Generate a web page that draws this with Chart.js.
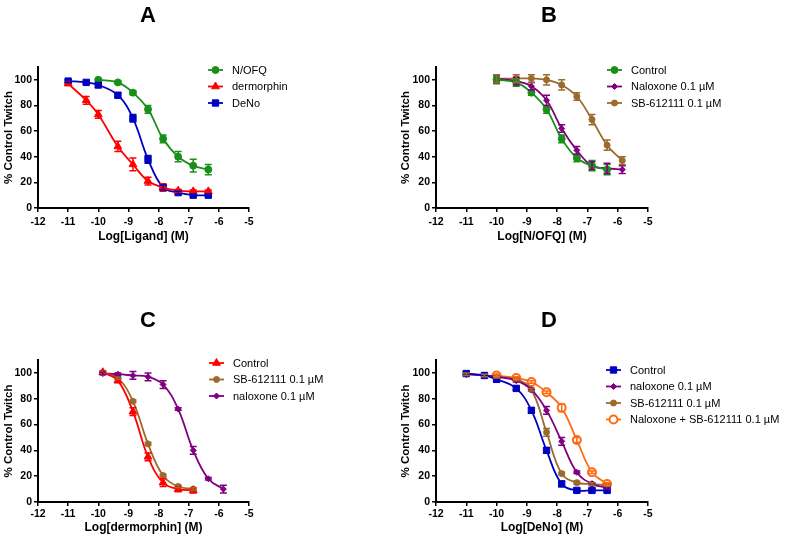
<!DOCTYPE html>
<html>
<head>
<meta charset="utf-8">
<script src="https://cdn.jsdelivr.net/npm/chart.js@4.4.1/dist/chart.umd.min.js"></script>
<style>
  body { margin: 0; background: #fff; }
  #wrap { position: relative; width: 786px; height: 535px; overflow: hidden; }
  canvas { position: absolute; }
</style>
</head>
<body>
<div id="wrap">
  <canvas id="cA" width="393" height="268" style="left:0;top:0"></canvas>
  <canvas id="cB" width="393" height="268" style="left:393px;top:0"></canvas>
  <canvas id="cC" width="393" height="267" style="left:0;top:268px"></canvas>
  <canvas id="cD" width="393" height="267" style="left:393px;top:268px"></canvas>
</div>
<script>
// ---- data (log concentration, % control twitch, SEM) ----
// panel A
const nofqX = [-10, -9.35, -8.85, -8.35, -7.85, -7.35, -6.85, -6.35];
const nofqY = [100, 98, 90, 77, 54, 40, 33, 30];
const nofqErr = [1, 1, 1.5, 3, 3, 4, 5, 4];
const dermX = [-11, -10.4, -10, -9.35, -8.85, -8.35, -7.85, -7.35, -6.85, -6.35];
const dermY = [97, 84, 73, 48, 34, 21, 16, 13.5, 13, 13];
const dermErr = [1, 3, 3, 4, 5, 3, 3, 1, 1, 1];
const denoX = [-11, -10.4, -10, -9.35, -8.85, -8.35, -7.85, -7.35, -6.85, -6.35];
const denoY = [99, 98, 96, 88, 70, 38, 16, 12, 10, 10];
const denoErr = [1, 1, 2, 2, 3, 3, 2, 1, 1, 1];

// panel B
const ctrlBX = [-10, -9.35, -8.85, -8.35, -7.85, -7.35, -6.85, -6.35];
const ctrlBY = [100, 98, 90, 77, 54, 39, 33, 30];
const ctrlBErr = [3, 3, 2, 3, 3, 3, 4, 4];
const naloxBX = [-10, -9.35, -8.85, -8.35, -7.85, -7.35, -6.85, -6.35, -5.85];
const naloxBY = [101, 99, 95, 84, 62, 45, 33, 31, 30];
const naloxBErr = [3, 3, 3, 4, 3, 3, 3, 4, 3];
const sbBY = [101, 101, 101, 100, 96, 87, 69, 49, 37];
const sbBErr = [3, 3, 3, 4, 4, 3, 4, 4, 3];

// panel C
const ctrlCX = [-9.85, -9.35, -8.85, -8.35, -7.85, -7.35, -6.85];
const ctrlCY = [100.5, 94, 70, 35, 15, 10, 9];
const ctrlCErr = [1, 1.5, 3, 3, 3, 2, 2];
const sbCY = [100, 96, 78, 45, 20.5, 12, 10];
const sbCErr = [1, 1, 1, 1, 1, 1, 1];
const naloxCX = [-9.85, -9.35, -8.85, -8.35, -7.85, -7.35, -6.85, -6.35, -5.85];
const naloxCY = [99.5, 99, 98, 97, 91, 72, 40, 18, 10];
const naloxCErr = [1, 1, 3, 3, 3, 1, 3, 1, 3];

// panel D
const ctrlDX = [-11, -10.4, -10, -9.35, -8.85, -8.35, -7.85, -7.35, -6.85, -6.35];
const ctrlDY = [99.5, 98, 95, 88, 71, 40, 14, 9, 9, 9];
const ctrlDErr = [1.5, 1.5, 2, 1.5, 2, 2, 2, 1.5, 1.5, 1.5];
const naloxDY = [99, 98, 97, 94, 87, 71, 47, 23, 14, 11];
const naloxDErr = [1, 1, 1, 1, 1, 3, 3, 1, 1, 1];
const sbDY = [99, 98, 97, 95, 87, 54, 22, 15, 14, 13];
const sbDErr = [1, 1, 1, 1, 1, 3, 1, 1, 1, 1];
const bothDX = [-10, -9.35, -8.85, -8.35, -7.85, -7.35, -6.85, -6.35];
const bothDY = [98, 96, 93, 85, 73, 48, 23, 14];
const bothDErr = [1, 1, 1, 1, 3, 2, 1, 1];

const yTicks = [0, 20, 40, 60, 80, 100];

const ARIAL = 'Arial, "Liberation Sans", sans-serif';

const GREEN = '#1a8f1a', RED = '#ff0000', BLUE = '#0000c0',
      PURPLE = '#800080', BROWN = '#9b6a2c', ORANGE = '#ff6a13';

const errorBars = {
  id: 'errorBars',
  afterDatasetsDraw(chart) {
    const ctx = chart.ctx, xs = chart.scales.x, ys = chart.scales.y;
    chart.data.datasets.forEach(ds => {
      if (!ds.err) return;
      ctx.save();
      ctx.strokeStyle = ds.borderColor;
      ctx.lineWidth = 1.5;
      ds.data.forEach((pt, i) => {
        const e = ds.err[i];
        const px = xs.getPixelForValue(pt.x);
        const top = ys.getPixelForValue(pt.y + e), bot = ys.getPixelForValue(pt.y - e);
        ctx.beginPath();
        ctx.moveTo(px, top); ctx.lineTo(px, bot);
        ctx.moveTo(px - 3.5, top); ctx.lineTo(px + 3.5, top);
        ctx.moveTo(px - 3.5, bot); ctx.lineTo(px + 3.5, bot);
        ctx.stroke();
      });
      ctx.restore();
    });
  }
};

const panelDeco = {
  id: 'panelDeco',
  afterDraw(chart, args, o) {
    const ctx = chart.ctx;
    ctx.save();
    ctx.fillStyle = '#000';
    ctx.font = 'bold 22px ' + ARIAL;
    ctx.textAlign = 'center';
    ctx.textBaseline = 'middle';
    ctx.fillText(o.letter, o.letterX, o.letterY);
    chart.data.datasets.forEach((ds, i) => {
      const y = o.legendY + i * 16.5;
      const x = o.legendX;
      ctx.strokeStyle = ds.borderColor;
      ctx.lineWidth = 1.8;
      ctx.beginPath(); ctx.moveTo(x, y); ctx.lineTo(x + 15, y); ctx.stroke();
      ctx.fillStyle = ds.pointBackgroundColor;
      ctx.lineWidth = ds.pointBorderWidth;
      Chart.helpers.drawPoint(ctx, { pointStyle: ds.pointStyle, radius: ds.pointRadius, rotation: 0, borderWidth: ds.pointBorderWidth }, x + 7.5, y);
      ctx.fillStyle = '#000';
      ctx.font = '11px ' + ARIAL;
      ctx.textAlign = 'left';
      ctx.fillText(ds.label, x + 24, y + 0.5);
    });
    ctx.restore();
  }
};

function series(label, xs, ys, err, color, marker, size, fill, bw) {
  return {
    label: label,
    data: xs.map((x, i) => ({ x: x, y: ys[i] })),
    err: err,
    borderColor: color,
    backgroundColor: color,
    borderWidth: 1.8,
    pointStyle: marker,
    pointRadius: size,
    pointBackgroundColor: fill || color,
    pointBorderColor: color,
    pointBorderWidth: bw || 1,
    tension: 0.4,
    fill: false
  };
}

function makePanel(id, p) {
  new Chart(document.getElementById(id), {
    type: 'line',
    data: { datasets: p.datasets },
    options: {
      responsive: false,
      animation: false,
      layout: { padding: { left: p.padL, top: p.padT, right: p.padR, bottom: p.padB } },
      plugins: {
        legend: { display: false },
        tooltip: { enabled: false },
        panelDeco: p.deco
      },
      scales: {
        x: {
          type: 'linear', min: -12, max: -5,
          afterFit: s => { s.height = p.xH; },
          ticks: { stepSize: 1, padding: p.tickPad, color: '#000', font: { family: ARIAL, size: 10.5, weight: 'bold' } },
          grid: { drawOnChartArea: false, color: '#000', lineWidth: 1.5, tickLength: 4 },
          border: { color: '#000', width: 2 },
          title: { display: true, text: p.xTitle, color: '#000', padding: 0, font: { family: ARIAL, size: 12, weight: 'bold' } }
        },
        y: {
          min: 0, max: 110,
          afterFit: s => { s.width = p.yW; },
          afterBuildTicks: s => { s.ticks = yTicks.map(v => ({ value: v })); },
          ticks: { padding: 2, color: '#000', font: { family: ARIAL, size: 10.5, weight: 'bold' } },
          grid: { drawOnChartArea: false, color: '#000', lineWidth: 1.5, tickLength: 4 },
          border: { color: '#000', width: 2 },
          title: { display: true, text: '% Control Twitch', color: '#000', padding: 0, font: { family: ARIAL, size: 11.5, weight: 'bold' } }
        }
      }
    },
    plugins: [errorBars, panelDeco]
  });
}

makePanel('cA', {
  padL: 2, yW: 36, padT: 67, padR: 144, xH: 36, padB: 24, tickPad: 4,
  xTitle: 'Log[Ligand] (M)',
  deco: { letter: 'A', letterX: 148, letterY: 16, legendX: 208, legendY: 70 },
  datasets: [
    series('N/OFQ', nofqX, nofqY, nofqErr, GREEN, 'circle', 3.5),
    series('dermorphin', dermX, dermY, dermErr, RED, 'triangle', 4.5),
    series('DeNo', denoX, denoY, denoErr, BLUE, 'rect', 4.5)
  ]
});

makePanel('cB', {
  padL: 6, yW: 37, padT: 67, padR: 138, xH: 36, padB: 24, tickPad: 4,
  xTitle: 'Log[N/OFQ] (M)',
  deco: { letter: 'B', letterX: 156, letterY: 16, legendX: 214, legendY: 70 },
  datasets: [
    series('Control', ctrlBX, ctrlBY, ctrlBErr, GREEN, 'circle', 3.5),
    series('Naloxone 0.1 \u00b5M', naloxBX, naloxBY, naloxBErr, PURPLE, 'rectRot', 3),
    series('SB-612111 0.1 \u00b5M', naloxBX, sbBY, sbBErr, BROWN, 'circle', 3)
  ]
});

makePanel('cC', {
  padL: 2, yW: 36, padT: 92, padR: 144, xH: 33, padB: 0, tickPad: 2,
  xTitle: 'Log[dermorphin] (M)',
  deco: { letter: 'C', letterX: 148, letterY: 53, legendX: 209, legendY: 95 },
  datasets: [
    series('Control', ctrlCX, ctrlCY, ctrlCErr, RED, 'triangle', 4.5),
    series('SB-612111 0.1 \u00b5M', ctrlCX, sbCY, sbCErr, BROWN, 'circle', 3),
    series('naloxone 0.1 \u00b5M', naloxCX, naloxCY, naloxCErr, PURPLE, 'rectRot', 3)
  ]
});

makePanel('cD', {
  padL: 6, yW: 37, padT: 92, padR: 138, xH: 33, padB: 0, tickPad: 2,
  xTitle: 'Log[DeNo] (M)',
  deco: { letter: 'D', letterX: 156, letterY: 53, legendX: 213, legendY: 102 },
  datasets: [
    series('Control', ctrlDX, ctrlDY, ctrlDErr, BLUE, 'rect', 4.5),
    series('naloxone 0.1 \u00b5M', ctrlDX, naloxDY, naloxDErr, PURPLE, 'rectRot', 3),
    series('SB-612111 0.1 \u00b5M', ctrlDX, sbDY, sbDErr, BROWN, 'circle', 3),
    series('Naloxone + SB-612111 0.1 \u00b5M', bothDX, bothDY, bothDErr, ORANGE, 'circle', 4, '#fff', 2)
  ]
});
</script>
</body>
</html>
